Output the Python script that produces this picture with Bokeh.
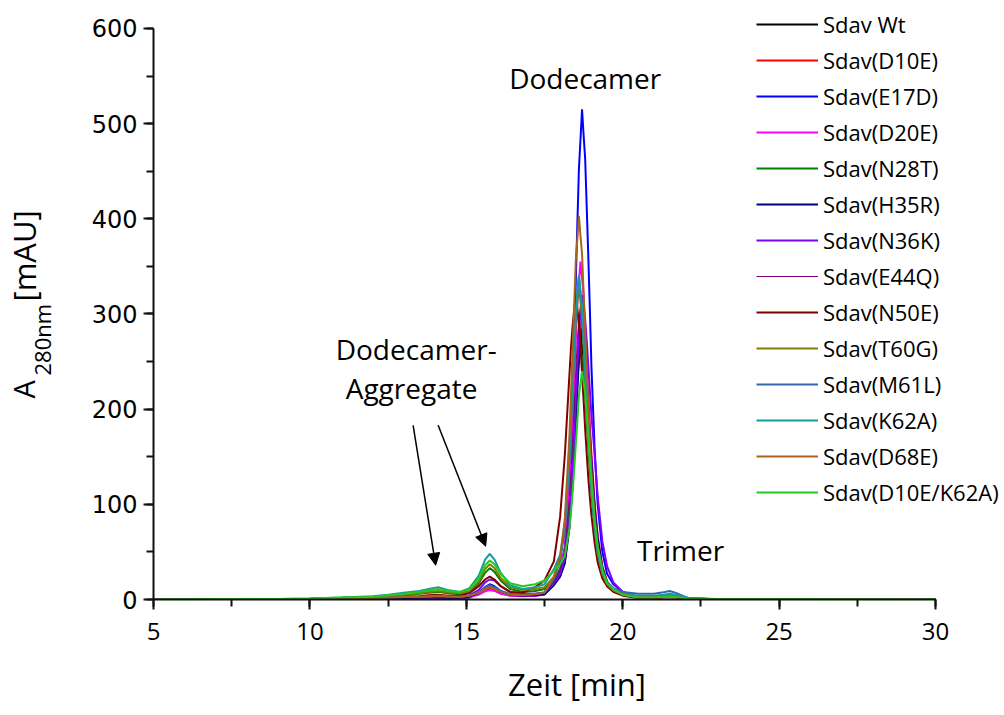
import math
from bokeh.plotting import figure
from bokeh.layouts import row
from bokeh.models import Range1d, Label, Arrow, NormalHead, SingleIntervalTicker
from bokeh.embed import file_html
from bokeh.resources import INLINE

# elution time grid [min]
time_min = [5.0, 9.0, 10.0, 11.0, 12.0, 12.5, 13.0, 13.5, 13.8, 14.1, 14.4, 14.8, 15.1, 15.4, 15.6, 15.75,
            15.9, 16.1, 16.4, 16.8, 17.2, 17.5, 17.8, 18.0, 18.15, 18.3, 18.35, 18.4, 18.45, 18.5, 18.55,
            18.6, 18.65, 18.7, 18.75, 18.8, 18.85, 18.9, 18.95, 19.0, 19.1, 19.2, 19.35, 19.5, 19.7, 20.0,
            20.5, 21.0, 21.3, 21.5, 21.7, 22.1, 23.0, 30.0]

sdav_wt = [0, 0.2, 0.5, 0.8, 1.2, 1.6, 2, 2.4, 2.7, 3, 2.7, 2.5, 3.5, 6.5, 10.5, 12, 11, 7, 4.5, 4, 4.5, 6,
           17, 28, 45, 98, 121, 153, 184, 216, 247, 264, 280, 266, 253, 225, 197, 169, 142, 119, 79, 52, 26, 16, 8.5, 5,
           2.5, 2.5, 3, 3.5, 3, 1, 0.3, 0]
sdav_d10e = [0, 0.1, 0.3, 0.6, 1, 1.3, 1.6, 1.8, 2, 2, 1.8, 1.8, 3, 6, 10, 12, 11, 7, 4.5, 4, 4.5, 5.5,
             16, 25, 40, 80, 104, 129, 163, 197, 231, 265, 282, 300, 285, 271, 240, 211, 181, 152, 102, 67, 35, 19, 11, 6,
             2, 2, 2.5, 3, 2.5, 0.8, 0.2, 0]
sdav_e17d = [0, 0, 0, 0.2, 0.3, 0.4, 0.5, 0.7, 0.8, 1, 1, 1, 2, 7, 13, 16, 14, 9, 5, 4, 4, 6,
             16, 30, 55, 120, 165, 210, 268, 335, 394, 452, 483, 515, 488, 463, 412, 361, 305, 245, 160, 100, 50, 27, 16, 8,
             2.5, 2.5, 3, 3.5, 3, 1, 0.3, 0]
sdav_d20e = [0, 0, 0.2, 0.4, 0.7, 1, 1.3, 1.6, 1.8, 2, 1.8, 1.5, 2.5, 5, 8.5, 10, 9, 6, 4, 3.5, 4, 5,
             18, 32, 54, 122, 152, 192, 233, 273, 313, 334, 355, 338, 320, 285, 250, 214, 179, 149, 99, 64, 31, 18, 10, 5,
             2, 2, 2.5, 3, 2.5, 0.8, 0.2, 0]
sdav_n28t = [0, 0.3, 0.8, 1.5, 2.5, 3.5, 4.5, 6, 7, 8, 6.5, 5.5, 8, 17, 28, 33, 29, 20, 11, 8, 9, 11,
             20, 32, 48, 96, 118, 147, 176, 205, 235, 250, 265, 251, 239, 213, 188, 161, 136, 114, 77, 50, 26, 16, 9, 5,
             2.5, 2.5, 3, 3.5, 3, 1, 0.3, 0]
sdav_h35r = [0, 0.1, 0.3, 0.6, 1, 1.3, 1.6, 1.8, 2, 2, 1.8, 1.8, 3, 7, 12, 14, 12.5, 8, 5, 4, 4.5, 5.5,
             15, 24, 38, 76, 99, 123, 155, 187, 219, 252, 268, 285, 271, 257, 228, 200, 172, 145, 97, 64, 33, 18, 11, 6,
             2, 2, 2.5, 3, 2.5, 0.8, 0.2, 0]
sdav_n36k = [0, 0.2, 0.5, 1, 1.5, 2, 2.5, 3, 3.5, 4, 3.5, 3, 4.5, 10, 18, 21, 20, 14, 8, 6, 6, 7,
             17, 27, 43, 85, 112, 138, 174, 210, 246, 282, 301, 320, 307, 294, 272, 246, 220, 194, 153, 108, 61, 35, 18, 8,
             3, 3, 3.5, 4, 3.5, 1, 0.3, 0]
sdav_e44q = [0, 0.2, 0.5, 0.8, 1.2, 1.6, 2, 2.4, 2.7, 3, 2.7, 2.5, 3.5, 7, 11, 13, 12, 8, 5, 4.5, 5, 6.5,
             18, 31, 50, 108, 134, 169, 204, 239, 274, 292, 310, 295, 280, 249, 218, 187, 157, 131, 87, 57, 28, 17, 9.5, 5,
             2.5, 2.5, 3, 3.5, 3, 1, 0.3, 0]
sdav_n50e = [0, 0.2, 0.5, 1, 1.5, 2, 3, 3.5, 4.5, 5, 4, 4, 7, 14, 21, 24, 21, 14, 8, 7, 13, 20,
             40, 87, 152, 238, 266, 288, 304, 320, 306, 291, 266, 238, 209, 179, 153, 128, 107, 89, 60, 39, 22, 14, 8, 4,
             1.5, 1.5, 2, 2, 2, 0.5, 0.2, 0]
sdav_t60g = [0, 0.3, 0.8, 1.5, 2.5, 3.5, 5, 6.5, 8, 9, 7.5, 6.5, 9, 19, 32, 37, 33, 23, 13, 10, 11, 13,
             24, 43, 75, 147, 182, 219, 255, 292, 311, 330, 313, 297, 265, 233, 201, 169, 141, 114, 75, 48, 27, 16, 10, 5.5,
             3, 3, 4, 5, 4, 1, 0.3, 0]
sdav_m61l = [0, 0.2, 0.5, 1, 1.5, 2, 2.5, 3, 3, 3.5, 3, 3, 4, 8, 13, 15, 13, 9, 6, 5, 6, 7.5,
             22, 40, 74, 149, 187, 225, 262, 300, 320, 340, 323, 306, 273, 240, 207, 173, 145, 117, 77, 50, 28, 18.5, 12, 8,
             6, 6, 7.5, 9, 7, 1.5, 0.3, 0]
sdav_k62a = [0, 0.5, 1, 2, 3.5, 5, 7, 9, 11, 13, 10, 8, 12, 25, 42, 48, 42, 28, 15, 11, 13, 16,
             32, 47, 80, 153, 190, 226, 264, 301, 321, 340, 323, 307, 274, 241, 208, 175, 147, 118, 78, 51, 28, 17, 11, 6,
             4, 4, 5, 6, 5, 1.5, 0.5, 0]
sdav_d68e = [0, 0.2, 0.5, 1, 1.5, 2, 2.5, 3, 3.5, 4, 3.5, 3, 4, 7, 11, 13, 11, 8, 5, 4.5, 5.5, 7,
             24, 44, 85, 174, 219, 265, 310, 356, 379, 403, 382, 363, 323, 284, 244, 204, 170, 136, 89, 56, 31, 18, 10, 5.5,
             2, 2, 2.5, 3, 2.5, 0.8, 0.2, 0]
sdav_d10e_k62a = [0, 0.5, 1, 2, 3, 4.5, 6, 8, 9.5, 11, 9, 8, 11, 22, 36, 41, 37, 27, 17, 14, 16, 20,
                  30, 37, 46, 75, 93, 113, 137, 163, 188, 214, 227, 240, 228, 217, 193, 171, 147, 125, 84, 56, 31, 17, 11, 5,
                  2, 2, 2.5, 3, 2.5, 1, 0.3, 0]

series_names = ["Sdav Wt", "Sdav(D10E)", "Sdav(E17D)", "Sdav(D20E)", "Sdav(N28T)", "Sdav(H35R)", "Sdav(N36K)",
                "Sdav(E44Q)", "Sdav(N50E)", "Sdav(T60G)", "Sdav(M61L)", "Sdav(K62A)", "Sdav(D68E)", "Sdav(D10E/K62A)"]
series_values = [sdav_wt, sdav_d10e, sdav_e17d, sdav_d20e, sdav_n28t, sdav_h35r, sdav_n36k,
                 sdav_e44q, sdav_n50e, sdav_t60g, sdav_m61l, sdav_k62a, sdav_d68e, sdav_d10e_k62a]
series_colors = ["#000000", "#FF0000", "#0000FF", "#FF00FF", "#008000", "#000080", "#8000FF",
                 "#800080", "#800000", "#808000", "#3366B0", "#169C9C", "#A8641A", "#22CC22"]
series_widths = [2, 2, 2, 2, 2, 2, 2, 1, 2, 2, 2, 2, 2, 2]

x_ticks_interval = 5
y_ticks_interval = 100
x_axis_bounds = (5, 30)
y_axis_bounds = (0, 600)

annotations = [("Dodecamer", 18.8, 548), ("Dodecamer-", 13.4, 263), ("Aggregate", 13.25, 222), ("Trimer", 21.85, 52)]
arrows = [(13.3, 183, 14.02, 36), (14.1, 183, 15.62, 56)]

TOTAL_H = 707
TITLE_W = 60

# y-axis title pieces: (text, anchor x [px from left], start y [px from top], font size)
y_title_parts = [("A", 23, 393, "29px"), ("280nm", 41, 370, "22px"), ("[mAU]", 23, 296, "31px")]

# ---- y title strip (pixel coordinates, y measured from the top) ----
t = figure(frame_width=TITLE_W, frame_height=TOTAL_H, x_range=Range1d(0, TITLE_W), y_range=Range1d(TOTAL_H, 0),
           x_axis_location=None, y_axis_location=None, title=None,
           output_backend="svg", toolbar_location=None,
           min_border_left=0, min_border_right=0, min_border_top=0, min_border_bottom=0)
t.xgrid.grid_line_color = None
t.ygrid.grid_line_color = None
t.outline_line_color = None
for txt, x, y, fs in y_title_parts:
    t.add_layout(Label(x=x, y=y, text=txt, angle=math.pi / 2, text_align="left", text_baseline="alphabetic",
                       text_font="Open Sans", text_font_size=fs, text_color="black"))

# ---- main chart ----
p = figure(width=940, height=TOTAL_H, x_range=Range1d(5, 32.078), y_range=Range1d(0, 624.1),
           output_backend="svg", toolbar_location=None,
           min_border_left=93, min_border_right=0, min_border_top=5, min_border_bottom=106)
p.outline_line_color = None
p.xgrid.grid_line_color = None
p.ygrid.grid_line_color = None
p.background_fill_color = "white"
p.border_fill_color = "white"

p.xaxis.ticker = SingleIntervalTicker(interval=x_ticks_interval, num_minor_ticks=2)
p.yaxis.ticker = SingleIntervalTicker(interval=y_ticks_interval, num_minor_ticks=2)
p.xaxis.bounds = x_axis_bounds
p.yaxis.bounds = y_axis_bounds

for ax in (p.xaxis, p.yaxis):
    ax.axis_line_width = 2
    ax.axis_line_color = "#111111"
    ax.major_tick_line_width = 2
    ax.minor_tick_line_width = 2
    ax.major_tick_line_color = "#111111"
    ax.minor_tick_line_color = "#111111"
    ax.major_tick_in = 0
    ax.major_tick_out = 10
    ax.minor_tick_in = 0
    ax.minor_tick_out = 7
    ax.major_label_text_color = "black"
    ax.axis_label_text_color = "black"
    ax.axis_label_text_font_style = "normal"

p.xaxis.axis_label = "Zeit [min]"
p.xaxis.axis_label_text_font = "Open Sans"
p.xaxis.axis_label_text_font_size = "31px"
p.xaxis.axis_label_standoff = 20
p.xaxis.major_label_text_font = "Open Sans"
p.xaxis.major_label_text_font_size = "24px"
p.xaxis.major_label_standoff = 13

p.yaxis.major_label_text_font = "DejaVu Sans"
p.yaxis.major_label_text_font_size = "24px"
p.yaxis.major_label_standoff = 6

for name, vals, col, lw in zip(series_names, series_values, series_colors, series_widths):
    p.line(time_min, vals, line_color=col, line_width=lw, legend_label=name)

lg = p.legend[0]
lg.location = (603, 92)
lg.glyph_width = 62
lg.glyph_height = 30
lg.label_height = 30
lg.spacing = 6
lg.padding = 0
lg.margin = 0
lg.label_standoff = 5
lg.border_line_color = None
lg.background_fill_alpha = 0
lg.label_text_font = "Open Sans"
lg.label_text_font_size = "22px"
lg.label_text_color = "black"

for txt, x, y in annotations:
    p.add_layout(Label(x=x, y=y, text=txt, text_align="center", text_baseline="middle",
                       text_font="Open Sans", text_font_size="28px", text_color="black"))

for xs, ys, xe, ye in arrows:
    p.add_layout(Arrow(x_start=xs, y_start=ys, x_end=xe, y_end=ye, line_width=1.5, line_color="black",
                       end=NormalHead(size=12, fill_color="black", line_color="black")))

layout = row(t, p, spacing=0)
open("out.html", "w").write(file_html(layout, INLINE))
